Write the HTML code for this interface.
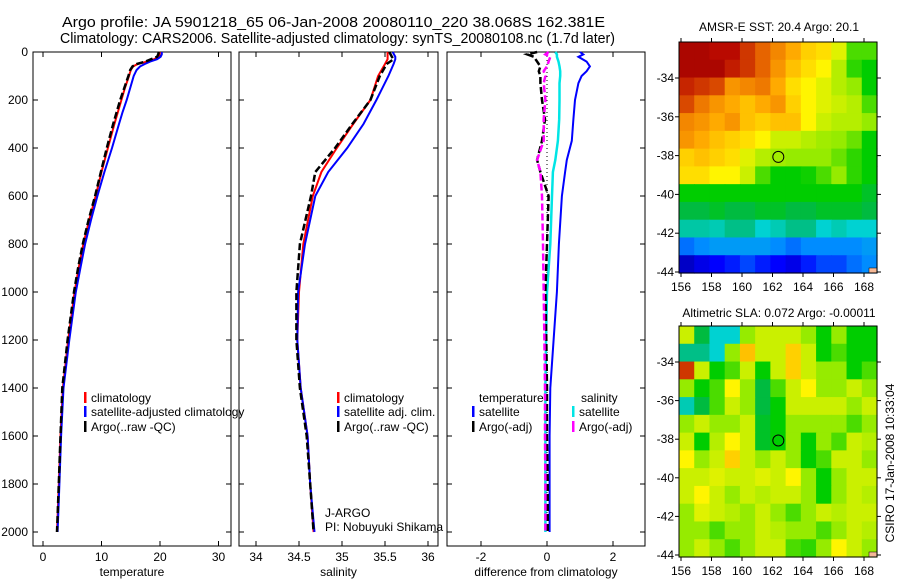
<!DOCTYPE html>
<html><head><meta charset="utf-8">
<style>
html,body{margin:0;padding:0;background:#fff;}
svg{display:block;font-family:"Liberation Sans",sans-serif;}
</style></head>
<body>
<svg id="fig" width="900" height="580" viewBox="0 0 900 580" xmlns="http://www.w3.org/2000/svg">
<text x="62" y="27" font-size="14.5" textLength="543" lengthAdjust="spacingAndGlyphs">Argo profile: JA 5901218_65 06-Jan-2008 20080110_220 38.068S 162.381E</text>
<text x="60" y="43" font-size="14.5" textLength="555" lengthAdjust="spacingAndGlyphs">Climatology: CARS2006. Satellite-adjusted climatology: synTS_20080108.nc (1.7d later)</text>
<text x="779" y="31" font-size="12" text-anchor="middle">AMSR-E SST: 20.4 Argo: 20.1</text>
<text x="779" y="317" font-size="12" text-anchor="middle">Altimetric SLA: 0.072 Argo: -0.00011</text>
<text transform="translate(894,463) rotate(-90)" font-size="12" text-anchor="middle">CSIRO 17-Jan-2008 10:33:04</text>
<text x="325" y="517" font-size="12">J-ARGO</text>
<text x="325" y="531" font-size="12">PI: Nobuyuki Shikama</text>
<g id="layer"></g>
</svg>
<script>
// ---- data ----
const tDepth=[0,10,20,30,40,50,60,75,100,150,200,250,300,400,500,600,700,800,900,1000,1200,1400,1600,1800,2000];
const tArgo=[19.8,19.7,19.5,18.5,17.5,16,15.3,14.9,14.6,13.9,13.2,12.6,12.0,10.9,9.9,8.9,7.8,6.8,6.0,5.3,4.2,3.3,3.0,2.7,2.4];
const tClim=[20.0,19.9,19.7,19.0,17.8,16.2,15.4,15.0,14.7,14.0,13.4,12.8,12.2,11.1,10.0,9.0,7.9,6.9,6.1,5.4,4.3,3.4,3.0,2.7,2.4];
const tSat=[20.3,20.3,20.1,19.5,18.3,17.4,16.6,16.0,15.5,14.9,14.3,13.6,13.0,11.8,10.5,9.3,8.2,7.2,6.4,5.6,4.5,3.5,3.1,2.8,2.5];
const sDepth=[0,20,30,50,100,200,300,400,500,600,800,1000,1200,1400,1600,1800,2000];
const sClim=[35.53,35.53,35.53,35.5,35.42,35.33,35.13,34.94,34.76,34.66,34.55,34.5,34.48,34.52,34.6,34.63,34.67];
const sArgo=[35.55,35.58,35.6,35.52,35.44,35.33,35.12,34.92,34.69,34.64,34.51,34.47,34.47,34.51,34.59,34.63,34.67];
const sSat=[35.59,35.62,35.62,35.6,35.54,35.4,35.25,35.06,34.84,34.69,34.57,34.49,34.48,34.52,34.6,34.63,34.68];
const dDepth=[0,10,20,40,60,80,100,130,200,280,370,450,500,600,800,1000,1200,1400,1600,1800,2000];
const dTSat=[1.0,1.1,0.95,1.2,1.3,1.2,1.05,0.95,0.85,0.8,0.75,0.6,0.55,0.45,0.36,0.3,0.2,0.1,0.08,0.08,0.08];
const dTArgo=[-0.3,-0.6,-0.4,-0.3,-0.2,-0.25,-0.2,-0.2,-0.15,-0.06,-0.15,-0.3,-0.2,0.05,0.0,-0.05,-0.02,0.0,0.0,0.02,0.02];
const dSSat=[0.25,0.3,0.3,0.35,0.38,0.4,0.4,0.38,0.38,0.37,0.33,0.25,0.18,0.15,0.1,0.0,-0.03,-0.05,-0.05,-0.05,-0.05];
const dSArgo=[0.05,-0.05,0.1,0.05,0.0,-0.1,-0.05,-0.1,-0.05,-0.1,-0.1,-0.3,-0.2,-0.15,-0.12,-0.1,-0.08,-0.06,-0.06,-0.05,-0.05];
const depthTicks=[0,200,400,600,800,1000,1200,1400,1600,1800,2000];
const tempTicks=[0,10,20,30];
const salTicks=[34,34.5,35,35.5,36];
const diffTicks=[-2,0,2];
const lonTicks=[156,158,160,162,164,166,168];
const latTicks=[-34,-36,-38,-40,-42,-44];
const sstGrid=[
[.97,.97,.95,.95,.9,.85,.8,.75,.7,.68,.62,.5,.5],
[.97,.97,.97,.93,.9,.85,.78,.72,.68,.65,.58,.48,.45],
[.92,.9,.88,.78,.8,.82,.75,.68,.65,.62,.58,.55,.45],
[.88,.82,.78,.75,.72,.75,.78,.7,.65,.62,.6,.58,.5],
[.8,.78,.75,.78,.72,.7,.72,.72,.65,.6,.58,.58,.55],
[.78,.75,.72,.7,.68,.65,.6,.6,.58,.56,.55,.52,.45],
[.7,.72,.7,.68,.62,.58,.56,.55,.55,.55,.52,.48,.45],
[.68,.68,.65,.65,.6,.5,.45,.45,.46,.5,.55,.48,.45],
[.45,.45,.45,.45,.45,.45,.45,.45,.45,.45,.45,.45,.42],
[.4,.4,.42,.4,.4,.42,.42,.4,.4,.42,.42,.42,.4],
[.33,.33,.32,.35,.35,.3,.32,.35,.35,.3,.32,.3,.3],
[.18,.2,.22,.22,.22,.22,.2,.18,.2,.2,.2,.2,.22],
[.05,.08,.1,.12,.15,.12,.1,.08,.12,.15,.15,.18,.2]];
const slaGrid=[
[.6,.4,.3,.3,.55,.6,.6,.6,.55,.45,.55,.45,.45],
[.35,.35,.3,.55,.72,.6,.6,.7,.6,.45,.5,.45,.45],
[.9,.6,.45,.5,.6,.45,.6,.7,.6,.55,.55,.45,.5],
[.55,.45,.5,.65,.55,.4,.5,.6,.65,.55,.55,.6,.55],
[.32,.4,.5,.6,.55,.4,.45,.6,.6,.6,.6,.55,.6],
[.55,.6,.55,.55,.6,.42,.45,.55,.55,.55,.55,.5,.55],
[.6,.45,.58,.65,.6,.42,.45,.55,.45,.55,.5,.6,.58],
[.65,.55,.6,.7,.6,.55,.6,.55,.45,.5,.6,.6,.55],
[.6,.6,.62,.6,.6,.62,.6,.65,.55,.45,.55,.6,.6],
[.6,.65,.6,.55,.6,.58,.6,.6,.55,.45,.55,.6,.58],
[.55,.62,.6,.58,.55,.6,.55,.5,.55,.6,.58,.6,.6],
[.55,.55,.5,.55,.55,.6,.58,.55,.55,.5,.55,.6,.58],
[.55,.6,.55,.5,.55,.6,.6,.5,.48,.55,.65,.6,.55]];
const floatLon=162.381, floatLat=-38.068;

// ---- helpers ----
const NS="http://www.w3.org/2000/svg";
const layer=document.getElementById('layer');
function mk(tag,attrs,parent){const e=document.createElementNS(NS,tag);for(const k in attrs)e.setAttribute(k,attrs[k]);(parent||layer).appendChild(e);return e;}
const yD=d=>52+0.24*d;
const xT=v=>43+5.85*v;
const xS=v=>256+86*(v-34);
const xDf=v=>547+33*v;
const pTop=52,pBot=546;

function panel(name,x0,x1,xs,ticks,fmt,label,showDepth){
  const g=mk('g',{});
  
  
  const r=mk('rect',{x:x0,y:pTop,width:x1-x0,height:pBot-pTop,fill:'none',stroke:'#000','stroke-width':1},g);
  
  
  ticks.forEach(t=>{
    const x=xs(t);
    mk('line',{x1:x,x2:x,y1:pTop,y2:pTop+5,stroke:'#000'},g);
    mk('line',{x1:x,x2:x,y1:pBot,y2:pBot-5,stroke:'#000'},g);
    const tx=mk('text',{x:x,y:pBot+15,'font-size':12,'text-anchor':'middle'},g);
    tx.textContent=fmt(t);
    
    
  });
  depthTicks.forEach(d=>{
    const y=yD(d);
    mk('line',{x1:x0,x2:x0+5,y1:y,y2:y,stroke:'#000'},g);
    mk('line',{x1:x1,x2:x1-5,y1:y,y2:y,stroke:'#000'},g);
    if(showDepth){const tx=mk('text',{x:28,y:y+4,'font-size':12,'text-anchor':'end'},g);tx.textContent=d;
      
      }
  });
  const lb=mk('text',{x:(x0+x1)/2,y:576,'font-size':12,'text-anchor':'middle'},g);
  lb.textContent=label;
  
  
  return g;
}
function line(depths,vals,xs,color,dash,name,w){
  const pts=vals.map((v,i)=>xs(v).toFixed(1)+','+yD(depths[i]).toFixed(1)).join(' ');
  const p=mk('polyline',{points:pts,fill:'none',stroke:color,'stroke-width':w||2,'stroke-dasharray':dash||'none'});
  
  
}
function legendItem(x,y,color,text,name){
  const r=mk('rect',{x:x,y:y-10,width:2.5,height:11,fill:color});
  
  
  const t=mk('text',{x:x+7,y:y,'font-size':12});
  t.textContent=text;
  
  
}
function txt(x,y,s,name){const t=mk('text',{x:x,y:y,'font-size':12});t.textContent=s;
  
  }

// ---- profile panels ----
panel('temperature-panel',33,231,xT,tempTicks,t=>t,'temperature',true);
line(tDepth,tClim,xT,'#ff0000',null,'temp-climatology-line');
line(tDepth,tSat,xT,'#0000ff',null,'temp-satellite-line');
line(tDepth,tArgo,xT,'#000000','7,3','temp-argo-line',2.5);
legendItem(84,402,'#ff0000','climatology','legend-climatology');
legendItem(84,416,'#0000ff','satellite-adjusted climatology','legend-satellite-adjusted');
legendItem(84,431,'#000000','Argo(..raw -QC)','legend-argo');

panel('salinity-panel',239,438,xS,salTicks,t=>t,'salinity',false);
line(sDepth,sClim,xS,'#ff0000',null,'sal-climatology-line');
line(sDepth,sSat,xS,'#0000ff',null,'sal-satellite-line');
line(sDepth,sArgo,xS,'#000000','7,3','sal-argo-line',2.5);
legendItem(337,402,'#ff0000','climatology','legend-sal-climatology');
legendItem(337,416,'#0000ff','satellite adj. clim.','legend-sal-satellite');
legendItem(337,431,'#000000','Argo(..raw -QC)','legend-sal-argo');

panel('difference-panel',447,645,xDf,diffTicks,t=>t,'difference from climatology',false);
mk('line',{x1:xDf(0),x2:xDf(0),y1:pTop,y2:yD(2000),stroke:'#000','stroke-dasharray':'1,3'});
line(dDepth,dTSat,xDf,'#0000ff',null,'diff-temp-satellite-line');
line(dDepth,dSSat,xDf,'#00e5e5',null,'diff-sal-satellite-line',2.5);
line(dDepth,dTArgo,xDf,'#000000','7,3','diff-temp-argo-line',2.5);
line(dDepth,dSArgo,xDf,'#ff00ff','7,3','diff-sal-argo-line',2.5);
txt(479,402,'temperature','legend-temperature-header');
legendItem(472,416,'#0000ff','satellite','legend-diff-temp-satellite');
legendItem(472,431,'#000000','Argo(-adj)','legend-diff-temp-argo');
txt(581,402,'salinity','legend-salinity-header');
legendItem(572,416,'#00e5e5','satellite','legend-diff-sal-satellite');
legendItem(572,431,'#ff00ff','Argo(-adj)','legend-diff-sal-argo');

// ---- maps ----
const cmapStops=[[0,[0,0,140]],[0.1,[0,0,255]],[0.2,[0,140,255]],[0.3,[0,210,210]],[0.38,[0,180,90]],[0.45,[0,205,0]],[0.55,[150,235,0]],[0.65,[255,245,0]],[0.75,[255,170,0]],[0.85,[230,100,0]],[0.95,[185,10,0]],[1,[150,0,0]]];
function cmap(v){
  for(let i=1;i<cmapStops.length;i++){
    const [a,ca]=cmapStops[i-1],[b,cb]=cmapStops[i];
    if(v<=b){const f=(v-a)/(b-a);
      return 'rgb('+ca.map((c,k)=>Math.round(c+(cb[k]-c)*f)).join(',')+')';}
  }
  return 'rgb(150,0,0)';
}
function map(name,grid,top,bot,lat34y,lat44y){
  const x0=679,x1=877;
  const xL=lon=>681+(lon-156)*(864-681)/12;
  const yL=lat=>lat34y+(-34-lat)*(lat44y-lat34y)/10;
  const g=mk('g',{});
  
  
  const rows=grid.length,cols=grid[0].length;
  const cw=(x1-x0)/cols,ch=(bot-top)/rows;
  grid.forEach((row,i)=>row.forEach((v,j)=>{
    const c=mk('rect',{x:(x0+j*cw).toFixed(2),y:(top+i*ch).toFixed(2),width:(cw+0.6).toFixed(2),height:(ch+0.6).toFixed(2),fill:cmap(v)},g);
    
    
  }));
  mk('rect',{x:x1-8,y:bot-5,width:8,height:5,fill:'#f4b896',stroke:'#000','stroke-width':0.5},g);
  mk('rect',{x:x0,y:top,width:x1-x0,height:bot-top,fill:'none',stroke:'#000'},g);
  lonTicks.forEach(l=>{const x=xL(l);
    mk('line',{x1:x,x2:x,y1:top-4,y2:top,stroke:'#000'},g);
    mk('line',{x1:x,x2:x,y1:bot,y2:bot+4,stroke:'#000'},g);
    const t=mk('text',{x:x,y:bot+18,'font-size':12,'text-anchor':'middle'},g);t.textContent=l;
    
    });
  latTicks.forEach(l=>{const y=yL(l);
    mk('line',{x1:x0-4,x2:x0,y1:y,y2:y,stroke:'#000'},g);
    mk('line',{x1:x1,x2:x1+4,y1:y,y2:y,stroke:'#000'},g);
    const t=mk('text',{x:674,y:y+4,'font-size':12,'text-anchor':'end'},g);t.textContent=l;
    
    });
  const c=mk('circle',{cx:xL(floatLon),cy:yL(floatLat),r:5.5,fill:'none',stroke:'#000','stroke-width':1},g);
  
  
}
map('sst-map',sstGrid,42,273,78,272);
map('sla-map',slaGrid,326,557,362,555);
</script>
</body></html>
